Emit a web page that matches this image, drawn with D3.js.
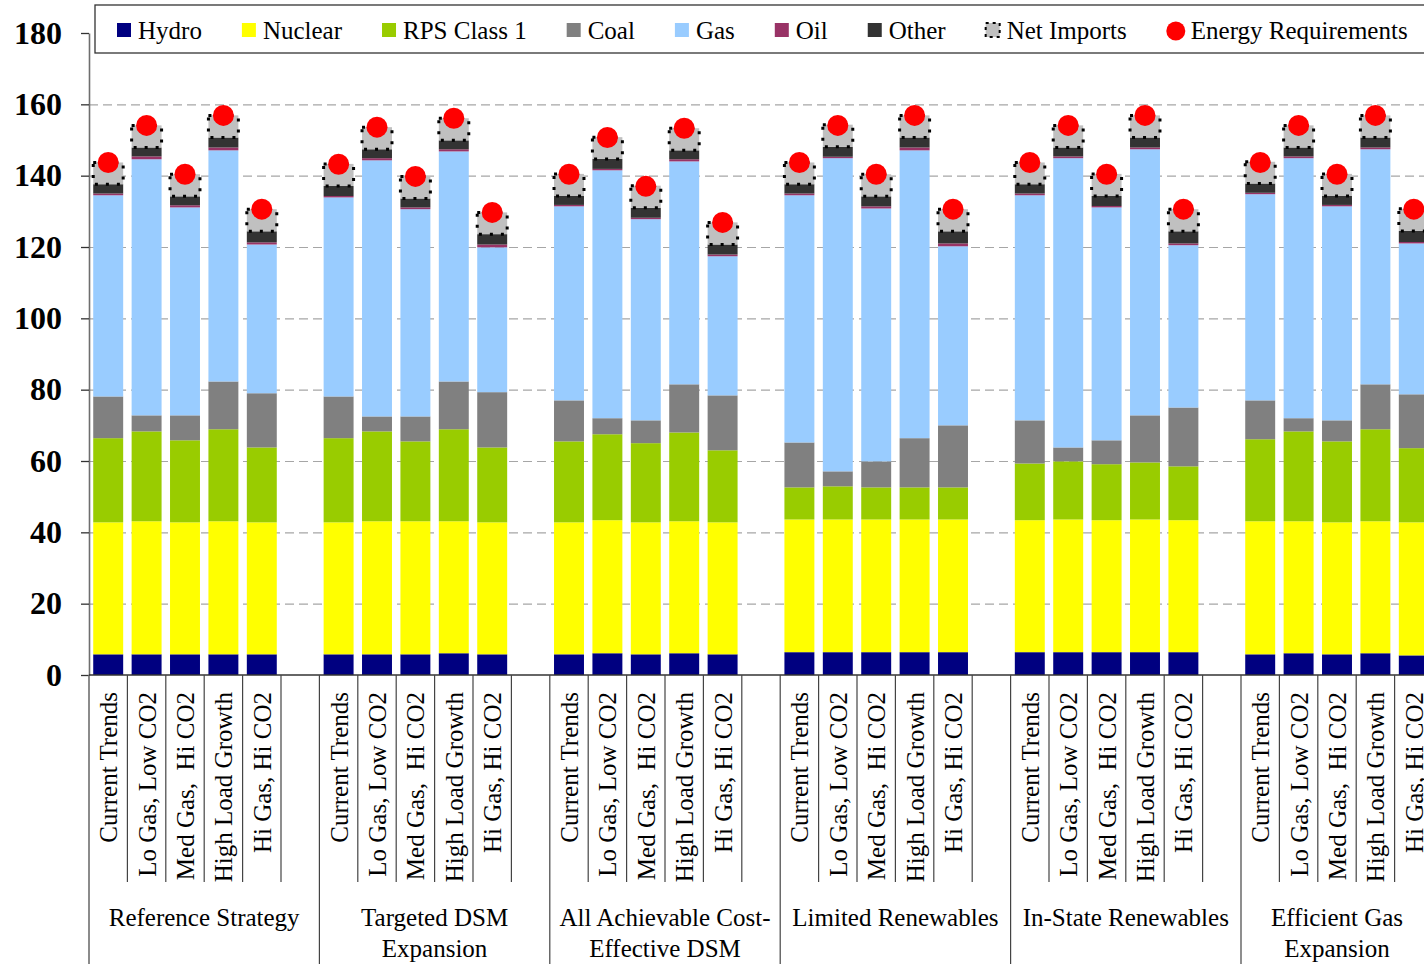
<!DOCTYPE html>
<html>
<head>
<meta charset="utf-8">
<script src="https://cdn.jsdelivr.net/npm/d3@7"></script>
<style>
  html, body { margin: 0; padding: 0; background: #fff; overflow: hidden; }
  svg { display: block; font-family: "Liberation Serif", "Times New Roman", serif; }
  text { white-space: pre; }
</style>
</head>
<body>
<svg id="chart" width="1424" height="964"></svg>
<script>
// Scenario groups (strategy) and the five load/price cases inside each one
const groupLabels = [
  ["Reference Strategy"],
  ["Targeted DSM", "Expansion"],
  ["All Achievable Cost-", "Effective DSM"],
  ["Limited Renewables"],
  ["In-State Renewables"],
  ["Efficient Gas", "Expansion"]
];
const cases = ["Current Trends", "Lo Gas, Low CO2", "Med Gas,  Hi CO2", "High Load Growth", "Hi Gas, Hi CO2"];

const seriesNames = ["Hydro", "Nuclear", "RPS Class 1", "Coal", "Gas", "Oil", "Other", "Net Imports"];
const seriesColors = ["#000080", "#FFFF00", "#99CC00", "#808080", "#99CCFF", "#993366", "#333333", "#C0C0C0"];

// Generation by source (TWh), 6 strategies x 5 cases
const hydro = [5.8, 5.8, 5.8, 5.8, 5.8,  5.8, 5.8, 5.8, 6.1, 5.8,  5.8, 6.1, 5.8, 6.1, 5.8,
               6.4, 6.4, 6.4, 6.4, 6.4,  6.4, 6.4, 6.4, 6.4, 6.4,  5.8, 6.1, 5.8, 6.1, 5.5];
const nuclear = [37.0, 37.3, 37.0, 37.3, 37.0,  37.0, 37.3, 37.3, 37.0, 37.0,  37.0, 37.3, 37.0, 37.0, 37.0,
                 37.2, 37.2, 37.2, 37.2, 37.2,  37.0, 37.2, 37.0, 37.2, 37.0,  37.3, 37.0, 37.0, 37.0, 37.3];
const rpsClass1 = [23.6, 25.2, 23.0, 25.8, 21.0,  23.6, 25.2, 22.4, 25.8, 21.0,  22.7, 24.1, 22.2, 24.9, 20.2,
                   9.0, 9.3, 9.0, 9.0, 9.0,  15.9, 16.3, 15.7, 16.0, 15.1,  23.0, 25.2, 22.7, 25.8, 20.8];
const coal = [11.7, 4.5, 7.0, 13.4, 15.2,  11.7, 4.2, 7.0, 13.4, 15.5,  11.5, 4.5, 6.4, 13.5, 15.4,
              12.6, 4.2, 7.3, 13.8, 17.4,  12.1, 3.9, 6.7, 13.2, 16.5,  10.9, 3.7, 5.9, 12.6, 15.1];
const gas = [56.4, 71.8, 58.3, 64.8, 41.7,  55.8, 71.8, 58.1, 64.5, 40.6,  54.4, 69.5, 56.4, 62.5, 39.0,
             69.3, 87.8, 70.9, 80.7, 50.2,  63.1, 81.1, 65.3, 74.6, 45.5,  57.8, 72.9, 60.0, 65.9, 42.3];
const oil = [0.5, 0.8, 0.6, 0.8, 0.6,  0.4, 0.6, 0.5, 0.6, 0.8,  0.4, 0.4, 0.4, 0.6, 0.5,
             0.5, 0.4, 0.6, 0.8, 0.8,  0.5, 0.5, 0.4, 0.5, 0.5,  0.4, 0.5, 0.4, 0.5, 0.4];
const other = [2.6, 2.5, 2.5, 2.8, 3.1,  2.8, 2.5, 2.5, 2.5, 2.9,  2.5, 2.8, 2.8, 2.5, 2.8,
               2.6, 2.8, 2.8, 2.8, 3.4,  2.6, 2.5, 2.8, 2.8, 3.4,  2.6, 2.5, 2.5, 2.8, 3.1];
const netImports = [6.1, 6.2, 6.2, 6.2, 6.2,  6.2, 6.2, 6.2, 6.2, 6.1,  6.2, 6.1, 6.2, 6.2, 6.2,
                    6.1, 6.2, 6.2, 6.2, 6.2,  6.1, 6.2, 6.2, 6.2, 6.2,  6.1, 6.2, 6.2, 6.2, 6.2];
const energyRequirements = [143.7, 154.1, 140.4, 156.9, 130.6,  143.2, 153.6, 139.8, 156.1, 129.7,
                            140.4, 150.7, 137.0, 153.3, 126.9,  143.7, 154.1, 140.4, 156.9, 130.6,
                            143.7, 154.1, 140.4, 156.9, 130.6,  143.7, 154.1, 140.4, 156.9, 130.6];

const yTicks = [0, 20, 40, 60, 80, 100, 120, 140, 160, 180];

// ---- layout ----
const svg = d3.select("#chart");
const plotLeft = 89, plotRight = 1433, plotTop = 33, plotBottom = 675;
const catLineBottom = 882, groupLineBottom = 964;
const FONT = 25;

// Slots: 5 cases per group, with an empty separator slot between groups
const slots = [];
groupLabels.forEach((g, gi) => {
  cases.forEach((c, ci) => slots.push(`${gi}-${ci}`));
  if (gi < groupLabels.length - 1) slots.push(`gap${gi}`);
});

const x = d3.scaleBand().domain(slots).range([plotLeft, plotRight]).paddingInner(0.22).paddingOuter(0.11);
const y = d3.scaleLinear().domain([0, 180]).range([plotBottom, plotTop]);
const step = x.step();
const slotStart = key => x(key) - (step - x.bandwidth()) / 2;

const seriesArrays = [hydro, nuclear, rpsClass1, coal, gas, oil, other, netImports];
const rows = [];
groupLabels.forEach((g, gi) => cases.forEach((c, ci) => {
  const i = gi * cases.length + ci;
  const row = { slot: `${gi}-${ci}`, er: energyRequirements[i] };
  seriesNames.forEach((s, si) => row[s] = seriesArrays[si][i]);
  rows.push(row);
}));

// gridlines
svg.append("g")
  .attr("transform", `translate(${plotLeft},0)`)
  .call(d3.axisLeft(y).tickValues(yTicks.filter(t => t > 0 && t < 180)).tickSize(-(plotRight - plotLeft)).tickFormat(""))
  .call(g => g.select(".domain").remove())
  .call(g => g.selectAll("line").attr("stroke", "#a6a6a6").attr("stroke-width", 1.2).attr("stroke-dasharray", "9,5"));

// stacked bars
const stacked = d3.stack().keys(seriesNames)(rows);
const layers = svg.append("g").selectAll("g").data(stacked).join("g")
  .attr("fill", (d, i) => seriesColors[i]);

layers.selectAll("rect").data(d => d).join("rect")
  .attr("x", d => x(d.data.slot))
  .attr("width", x.bandwidth())
  .attr("y", d => y(d[1]))
  .attr("height", d => y(d[0]) - y(d[1]));

// dotted outline on the net imports segment
layers.filter(d => d.key === "Net Imports").selectAll("rect")
  .attr("stroke", "#000").attr("stroke-width", 3).attr("stroke-dasharray", "3,8");

// energy requirements markers
svg.append("g").selectAll("circle").data(rows).join("circle")
  .attr("cx", d => x(d.slot) + x.bandwidth() / 2)
  .attr("cy", d => y(d.er))
  .attr("r", 10.5)
  .attr("fill", "#FF0000");

// y axis
const yAxis = svg.append("g")
  .attr("transform", `translate(${plotLeft},0)`)
  .call(d3.axisLeft(y).tickValues(yTicks).tickSize(8).tickSizeOuter(0).tickPadding(19));
yAxis.select(".domain").attr("stroke", "#6e6e6e").attr("stroke-width", 1.6);
yAxis.selectAll(".tick line").attr("stroke", "#333").attr("stroke-width", 1.3);
yAxis.selectAll(".tick text")
  .attr("font-family", "Liberation Serif, Times New Roman, serif")
  .attr("font-size", 32).attr("font-weight", "bold").attr("fill", "#000");

// axis line extension through the category label area
svg.append("line").attr("x1", plotLeft).attr("x2", plotLeft).attr("y1", plotBottom).attr("y2", groupLineBottom)
  .attr("stroke", "#6e6e6e").attr("stroke-width", 1.6);

// x axis baseline
svg.append("line").attr("x1", plotLeft).attr("x2", plotRight).attr("y1", plotBottom).attr("y2", plotBottom)
  .attr("stroke", "#333").attr("stroke-width", 1.3);

// category separators below the axis
const bounds = d3.range(1, slots.length).map(i => ({
  xpos: plotLeft + i * step,
  isGroup: slots[i - 1].startsWith("gap")
}));
svg.append("g").selectAll("line").data(bounds).join("line")
  .attr("x1", d => d.xpos).attr("x2", d => d.xpos)
  .attr("y1", plotBottom).attr("y2", d => d.isGroup ? groupLineBottom : catLineBottom)
  .attr("stroke", "#444").attr("stroke-width", 1.2);

// rotated case labels
svg.append("g").selectAll("text").data(rows).join("text")
  .attr("transform", d => `translate(${x(d.slot) + x.bandwidth() / 2 + 9},692) rotate(-90)`)
  .attr("text-anchor", "end")
  .attr("font-size", FONT)
  .text(d => cases[+d.slot.split("-")[1]]);

// group labels, centred on each group's span (separator slot included)
const groupCenter = gi => {
  const start = slotStart(`${gi}-0`);
  const end = gi < groupLabels.length - 1 ? slotStart(`${gi + 1}-0`) : plotRight;
  return (start + end) / 2;
};
const groupG = svg.append("g").selectAll("text").data(groupLabels).join("text")
  .attr("text-anchor", "middle")
  .attr("font-size", FONT)
  .attr("x", (d, gi) => groupCenter(gi))
  .attr("y", 926);
groupG.selectAll("tspan").data(d => d).join("tspan")
  .attr("x", function () { return d3.select(this.parentNode).attr("x"); })
  .attr("dy", (d, i) => i === 0 ? 0 : 31)
  .text(d => d);

// legend
const legend = svg.append("g");
legend.append("rect").attr("x", 95).attr("y", 5).attr("width", 1400).attr("height", 48)
  .attr("fill", "#fff").attr("stroke", "#333").attr("stroke-width", 1.3);

const legendItems = seriesNames.concat(["Energy Requirements"]);
let lx = 117;
legendItems.forEach((name, i) => {
  const g = legend.append("g");
  if (i < seriesNames.length) {
    const r = g.append("rect").attr("x", lx).attr("y", 23).attr("width", 14).attr("height", 14)
      .attr("fill", seriesColors[i]);
    if (name === "Net Imports") r.attr("stroke", "#000").attr("stroke-width", 2).attr("stroke-dasharray", "3,4");
  } else {
    g.append("circle").attr("cx", lx + 9).attr("cy", 31).attr("r", 9.5).attr("fill", "#FF0000");
  }
  const tx = lx + (i < seriesNames.length ? 21 : 24);
  const t = g.append("text").attr("x", tx).attr("y", 39).attr("font-size", FONT).text(name);
  lx = tx + t.node().getComputedTextLength() + 40;
});
</script>
</body>
</html>
